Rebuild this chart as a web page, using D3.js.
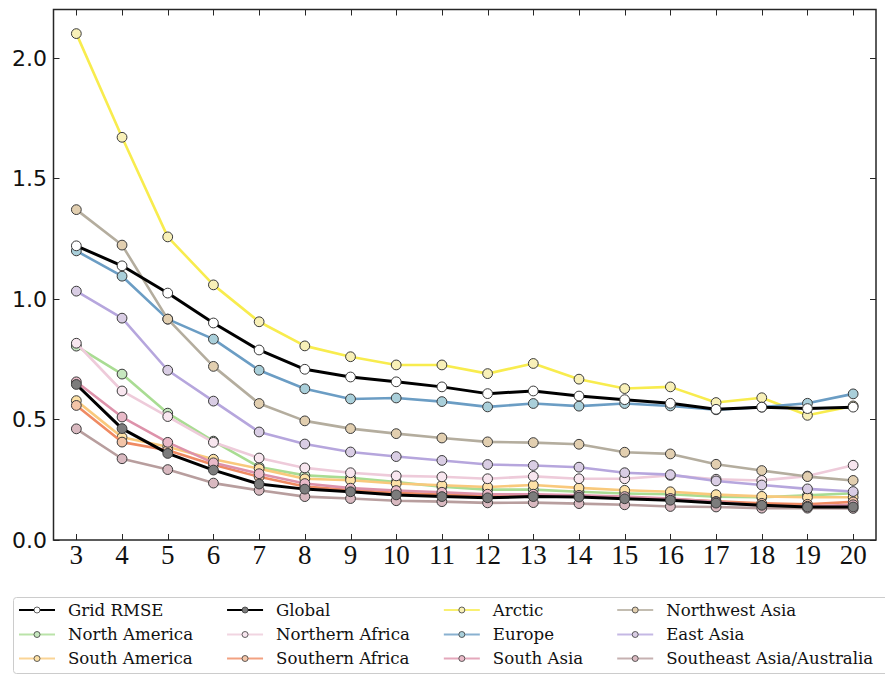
<!DOCTYPE html>
<html>
<head>
<meta charset="utf-8">
<script src="https://cdn.jsdelivr.net/npm/d3@7/dist/d3.min.js"></script>
<style>
  html, body { margin: 0; padding: 0; background: #fff; }
  svg { display: block; }
</style>
</head>
<body>
<svg id="chart" width="885" height="675"></svg>
<script>
// Number of clusters on the x axis
const clusters = [3, 4, 5, 6, 7, 8, 9, 10, 11, 12, 13, 14, 15, 16, 17, 18, 19, 20];

// RMSE per number of clusters
const gridRmse        = [1.220, 1.137, 1.024, 0.900, 0.788, 0.708, 0.676, 0.656, 0.635, 0.607, 0.618, 0.597, 0.582, 0.567, 0.542, 0.551, 0.545, 0.551];
const globalRmse      = [0.645, 0.462, 0.359, 0.290, 0.232, 0.211, 0.200, 0.187, 0.180, 0.175, 0.180, 0.178, 0.171, 0.165, 0.153, 0.144, 0.137, 0.137];
const arctic          = [2.100, 1.670, 1.257, 1.058, 0.905, 0.805, 0.760, 0.726, 0.726, 0.690, 0.732, 0.667, 0.628, 0.635, 0.570, 0.590, 0.517, 0.556];
const northwestAsia   = [1.370, 1.223, 0.916, 0.720, 0.566, 0.494, 0.462, 0.441, 0.423, 0.407, 0.404, 0.397, 0.364, 0.357, 0.314, 0.288, 0.263, 0.247];
const northAmerica    = [0.804, 0.688, 0.526, 0.410, 0.303, 0.268, 0.258, 0.240, 0.221, 0.209, 0.209, 0.200, 0.193, 0.190, 0.180, 0.177, 0.185, 0.194];
const northernAfrica  = [0.816, 0.618, 0.512, 0.405, 0.340, 0.299, 0.279, 0.266, 0.262, 0.254, 0.264, 0.254, 0.254, 0.268, 0.252, 0.247, 0.265, 0.310];
const europe          = [1.199, 1.094, 0.916, 0.833, 0.704, 0.627, 0.585, 0.589, 0.574, 0.552, 0.566, 0.555, 0.566, 0.556, 0.540, 0.551, 0.567, 0.606];
const eastAsia        = [1.032, 0.920, 0.704, 0.576, 0.448, 0.398, 0.365, 0.346, 0.330, 0.313, 0.309, 0.302, 0.279, 0.271, 0.245, 0.228, 0.212, 0.201];
const southAmerica    = [0.578, 0.426, 0.387, 0.335, 0.296, 0.254, 0.248, 0.234, 0.227, 0.220, 0.228, 0.216, 0.206, 0.200, 0.188, 0.181, 0.177, 0.177];
const southernAfrica  = [0.558, 0.406, 0.372, 0.312, 0.262, 0.222, 0.207, 0.196, 0.190, 0.183, 0.186, 0.183, 0.176, 0.170, 0.160, 0.152, 0.148, 0.158];
const southAsia       = [0.656, 0.510, 0.405, 0.320, 0.275, 0.234, 0.215, 0.205, 0.198, 0.190, 0.190, 0.185, 0.180, 0.172, 0.158, 0.142, 0.140, 0.146];
const southeastAsia   = [0.461, 0.337, 0.292, 0.236, 0.206, 0.180, 0.172, 0.163, 0.159, 0.154, 0.155, 0.151, 0.146, 0.139, 0.137, 0.132, 0.132, 0.131];

// Axis ticks
const yTicks = [0.0, 0.5, 1.0, 1.5, 2.0];

// Series in legend order (column-major, 3 rows)
const series = [
  { name: "Grid RMSE",                values: gridRmse,       line: "#000000", fill: "#ffffff", width: 3 },
  { name: "North America",            values: northAmerica,   line: "#a9dc93", fill: "#c6e7bf", width: 2.6 },
  { name: "South America",            values: southAmerica,   line: "#f9c97c", fill: "#fde1a6", width: 2.6 },
  { name: "Global",                   values: globalRmse,     line: "#000000", fill: "#7c7c7c", width: 3 },
  { name: "Northern Africa",          values: northernAfrica, line: "#eecbda", fill: "#f8e6ef", width: 2.6 },
  { name: "Southern Africa",          values: southernAfrica, line: "#ef8a62", fill: "#f3c5a8", width: 2.6 },
  { name: "Arctic",                   values: arctic,         line: "#f8ec4e", fill: "#f8f0b8", width: 2.6 },
  { name: "Europe",                   values: europe,         line: "#6b9dc4", fill: "#a9cfda", width: 2.6 },
  { name: "South Asia",               values: southAsia,      line: "#dd92aa", fill: "#e9bac8", width: 2.6 },
  { name: "Northwest Asia",           values: northwestAsia,  line: "#b4ad9e", fill: "#e2cfb0", width: 2.6 },
  { name: "East Asia",                values: eastAsia,       line: "#b6a6dd", fill: "#d9cde4", width: 2.6 },
  { name: "Southeast Asia/Australia", values: southeastAsia,  line: "#b89e9e", fill: "#d9b9c0", width: 2.6 }
];

const svg = d3.select("#chart");
const plot = { left: 53.5, right: 876, top: 9.5, bottom: 540 };

const x = d3.scaleLinear().domain([2.5, 20.5]).range([plot.left, plot.right]);
const y = d3.scaleLinear().domain([0, 2.2]).range([plot.bottom, plot.top]);

// Colored regional lines first, the two black lines on top
const drawOrder = series.filter(s => s.line !== "#000000")
  .concat(series.filter(s => s.name === "Global"), series.filter(s => s.name === "Grid RMSE"));

const lineGen = d3.line().x((d, i) => x(clusters[i])).y(d => y(d));

const marks = svg.append("g");
drawOrder.forEach(s => {
  const g = marks.append("g");
  g.append("path")
    .attr("d", lineGen(s.values))
    .attr("fill", "none")
    .attr("stroke", s.line)
    .attr("stroke-width", s.width)
    .attr("stroke-linejoin", "round");
  g.selectAll("circle").data(s.values).join("circle")
    .attr("cx", (d, i) => x(clusters[i]))
    .attr("cy", d => y(d))
    .attr("r", 4.9)
    .attr("fill", s.fill)
    .attr("stroke", "#3a3a3a")
    .attr("stroke-width", 1);
});

// Frame and inward ticks on all four sides
const axisColor = "#262626";
const tickLen = 6;
const axes = svg.append("g");
axes.append("rect")
  .attr("x", plot.left).attr("y", plot.top)
  .attr("width", plot.right - plot.left).attr("height", plot.bottom - plot.top)
  .attr("fill", "none").attr("stroke", axisColor).attr("stroke-width", 1.5);

clusters.forEach(k => {
  const px = Math.round(x(k)) + 0.5;
  axes.append("line").attr("x1", px).attr("x2", px).attr("y1", plot.bottom).attr("y2", plot.bottom - tickLen)
    .attr("stroke", axisColor).attr("stroke-width", 1);
  axes.append("line").attr("x1", px).attr("x2", px).attr("y1", plot.top).attr("y2", plot.top + tickLen)
    .attr("stroke", axisColor).attr("stroke-width", 1);
  axes.append("text")
    .attr("x", x(k)).attr("y", 564)
    .attr("text-anchor", "middle")
    .attr("font-family", "'Liberation Serif', 'Times New Roman', serif")
    .attr("font-size", 27)
    .attr("fill", "#111")
    .text(k);
});

const fmt = d3.format(".1f");
yTicks.forEach(v => {
  const py = Math.round(y(v)) + 0.5;
  axes.append("line").attr("x1", plot.left).attr("x2", plot.left + tickLen).attr("y1", py).attr("y2", py)
    .attr("stroke", axisColor).attr("stroke-width", 1);
  axes.append("line").attr("x1", plot.right).attr("x2", plot.right - tickLen).attr("y1", py).attr("y2", py)
    .attr("stroke", axisColor).attr("stroke-width", 1);
  axes.append("text")
    .attr("x", 47).attr("y", y(v))
    .attr("dy", "0.36em")
    .attr("text-anchor", "end")
    .attr("font-family", "'DejaVu Sans', sans-serif")
    .attr("font-size", 22)
    .attr("fill", "#111")
    .text(fmt(v));
});

// Legend: 4 columns x 3 rows, filled column by column
const legend = svg.append("g");
legend.append("rect")
  .attr("x", 13.5).attr("y", 597.5).attr("width", 900).attr("height", 76)
  .attr("rx", 3)
  .attr("fill", "#fff").attr("stroke", "#cccccc").attr("stroke-width", 1);

const rowY = [610, 634.5, 658.5];
const handleLen = 36, handleGap = 13, colGap = 34;
let colX = 19;
for (let c = 0; c < 4; c++) {
  const items = series.slice(c * 3, c * 3 + 3);
  let maxW = 0;
  items.forEach((s, r) => {
    const yy = rowY[r];
    legend.append("line")
      .attr("x1", colX).attr("x2", colX + handleLen).attr("y1", yy).attr("y2", yy)
      .attr("stroke", s.line).attr("stroke-width", 2.2)
      .attr("stroke-opacity", s.line === "#000000" ? 1 : 0.8);
    legend.append("circle")
      .attr("cx", colX + handleLen / 2).attr("cy", yy).attr("r", 3)
      .attr("fill", s.fill).attr("stroke", "#3a3a3a").attr("stroke-width", 0.8);
    const t = legend.append("text")
      .attr("x", colX + handleLen + handleGap).attr("y", yy)
      .attr("dy", "0.35em")
      .attr("font-family", "'DejaVu Serif', serif")
      .attr("font-size", 16.6)
      .attr("fill", "#111")
      .text(s.name);
    maxW = Math.max(maxW, t.node().getComputedTextLength());
  });
  colX += handleLen + handleGap + maxW + colGap;
}
</script>
</body>
</html>
